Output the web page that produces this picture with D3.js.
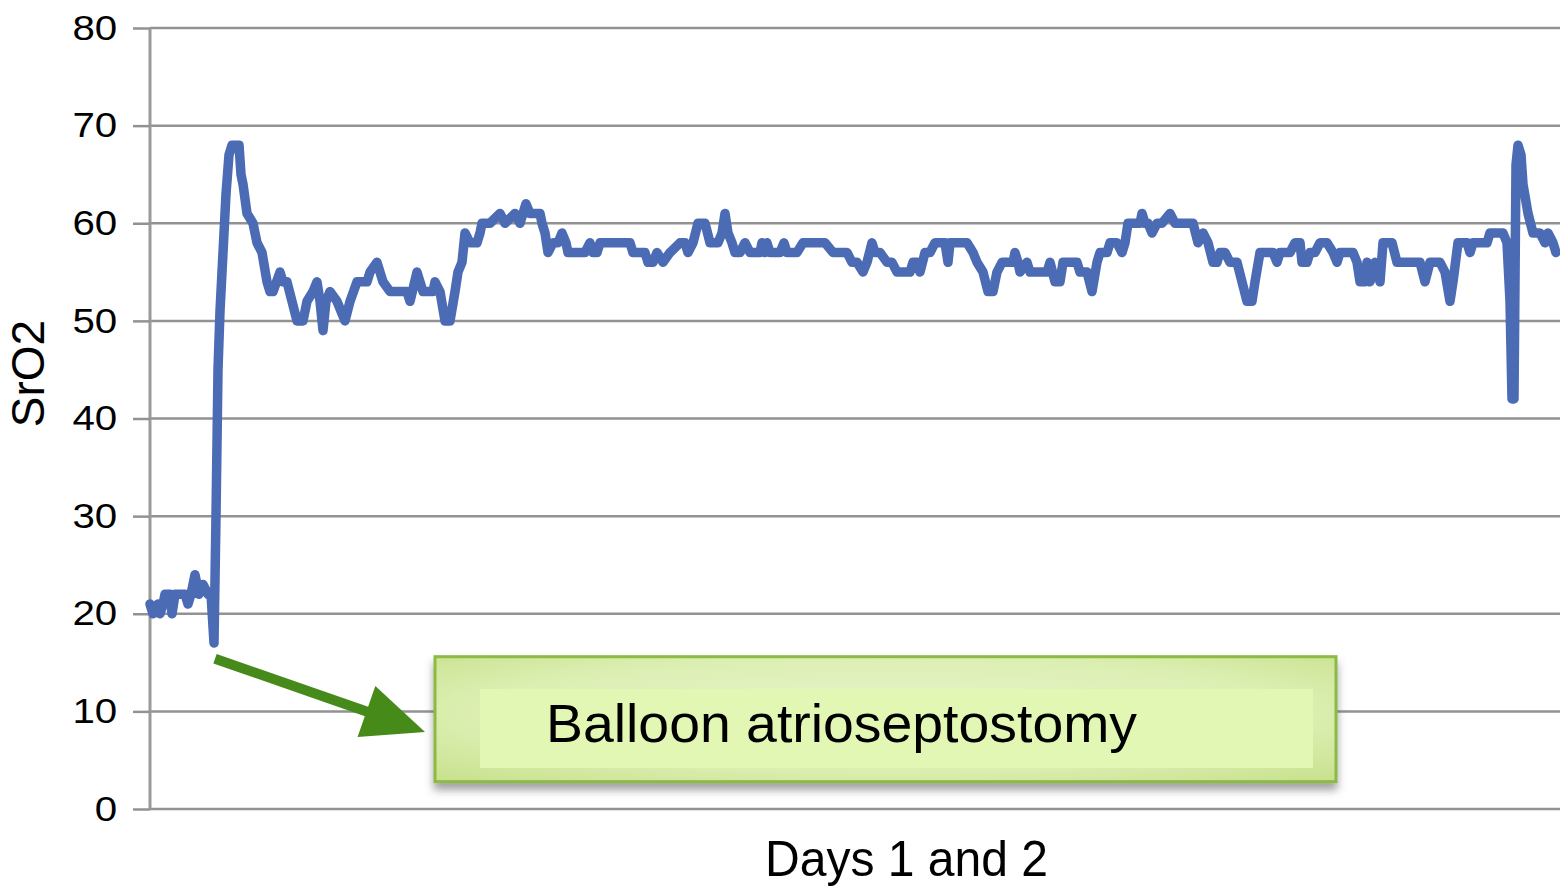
<!DOCTYPE html>
<html>
<head>
<meta charset="utf-8">
<script src="https://cdn.jsdelivr.net/npm/d3@7/dist/d3.min.js"></script>
<style>
  html, body { margin: 0; padding: 0; background: #ffffff; }
  svg { display: block; }
</style>
</head>
<body>
<svg id="chart" width="1560" height="887"></svg>
<script>
// ---- data (sample index over days 1 and 2, SrO2 value) ----
const sampleIdx = [0,3,8,10,13,15,20,22,25,35,38,41,45,49,53,58,61,64,66,68,70,72,74,76,79,82,86,89,91,93,97,103,107,112,117,120,123,130,133,137,142,147,153,157,163,167,170,173,176,180,187,195,200,207,217,220,227,233,240,257,260,267,273,283,285,290,295,300,305,308,312,315,320,327,330,332,340,350,355,365,370,376,380,390,392,395,398,403,408,412,416,418,435,440,443,447,450,480,483,495,498,503,507,513,520,530,535,538,543,548,555,560,568,572,575,578,582,585,590,595,600,610,612,615,617,620,630,634,637,647,653,675,683,697,702,707,713,717,722,725,730,737,742,747,760,763,767,770,775,780,785,795,798,800,817,823,827,833,838,843,847,852,863,865,868,870,877,880,897,900,905,910,913,927,930,937,942,947,950,957,960,967,972,975,978,990,992,995,998,1002,1007,1012,1020,1025,1043,1048,1053,1058,1063,1067,1070,1075,1080,1087,1092,1097,1102,1105,1110,1123,1127,1130,1140,1145,1150,1152,1157,1160,1165,1170,1177,1183,1187,1190,1203,1207,1210,1215,1217,1220,1225,1230,1233,1242,1247,1270,1275,1280,1290,1295,1300,1303,1308,1317,1320,1323,1337,1340,1353,1357,1360,1362,1364,1366,1368,1371,1373,1378,1383,1390,1395,1398,1403,1406];
const sro2Values = [21,20,21,20,21,22,22,20,22,22,21,22,24,22,23,22,22,17,30,45,51,55,59,63,67,68,68,68,65,64,61,60,58,57,54,53,53,55,54,54,52,50,50,52,53,54,52,49,52,53,52,50,52,54,54,55,56,54,53,53,52,55,53,53,54,53,50,50,53,55,56,59,58,58,59,60,60,61,60,61,60,62,61,61,60,59,57,58,58,59,58,57,57,58,57,57,58,58,57,57,56,56,57,56,57,58,58,57,58,60,60,58,58,59,61,59,58,57,57,58,57,57,58,57,58,57,57,58,57,57,58,58,57,57,56,56,55,56,58,57,57,56,56,55,55,56,56,55,57,57,58,58,56,58,58,57,56,55,53,53,55,56,56,57,56,55,56,55,55,56,54,54,56,56,55,55,53,56,57,57,58,58,57,58,60,60,61,60,60,59,60,60,61,60,60,58,59,58,56,56,57,57,56,56,54,52,52,54,57,57,56,57,57,58,58,56,56,57,57,58,58,57,56,57,57,56,54,54,56,54,56,54,58,58,56,56,54,56,56,55,52,54,58,58,57,58,58,59,59,58,52,42,42,66,68,67,64,61,59,59,58,59,58,57];
const yTicks = [0,10,20,30,40,50,60,70,80];
const yLabel = "SrO2";
const xLabel = "Days 1 and 2";
const noteText = "Balloon atrioseptostomy";
// annotation anchors in data units: [sample, value]
const arrowFrom = [65, 15.4];
const arrowTo = [275, 7.9];
const noteBox = [285, 15.6, 1186, 2.8];   // x0, yTop, x1, yBottom
const noteInner = [330, 12.3, 1163, 4.2];

const svg = d3.select("#chart");
const x = d3.scaleLinear().domain([0, 1410]).range([150, 1560]);
const y = d3.scaleLinear().domain([0, 80]).range([809, 28]);

const defs = svg.append("defs");
const rg = defs.append("radialGradient").attr("id", "boxFill")
  .attr("cx", "50%").attr("cy", "45%").attr("r", "75%");
rg.append("stop").attr("offset", "0%").attr("stop-color", "#e6f3cc");
rg.append("stop").attr("offset", "60%").attr("stop-color", "#dcefb2");
rg.append("stop").attr("offset", "100%").attr("stop-color", "#c6e08a");
const f = defs.append("filter").attr("id", "shadow")
  .attr("x", "-5%").attr("y", "-20%").attr("width", "110%").attr("height", "150%");
f.append("feDropShadow").attr("dx", 0).attr("dy", 7).attr("stdDeviation", 4)
  .attr("flood-color", "#555").attr("flood-opacity", 0.55);

// gridlines
svg.append("g").selectAll("line").data(yTicks).join("line")
  .attr("x1", 150).attr("x2", 1560)
  .attr("y1", d => y(d)).attr("y2", d => y(d))
  .attr("stroke", "#929292").attr("stroke-width", 2.5);

// y axis
const axis = svg.append("g").attr("transform", "translate(150,0)")
  .call(d3.axisLeft(y).tickValues(yTicks).tickSize(17).tickPadding(11.5));
axis.select(".domain").attr("stroke", "#9a9a9a").attr("stroke-width", 3)
  .attr("d", `M0,${y(80)}V${y(0)}`);
axis.selectAll(".tick line").attr("stroke", "#929292").attr("stroke-width", 2.5);
axis.selectAll(".tick text")
  .attr("font-family", "'Liberation Sans', Arial, Helvetica, sans-serif")
  .attr("font-size", 35).attr("fill", "#000")
  .attr("transform", "scale(1.15,1)");

// y label
svg.append("text")
  .attr("transform", `translate(44,${(y(0)+y(80))/2 - 45}) rotate(-90)`)
  .attr("text-anchor", "middle")
  .attr("font-family", "'Liberation Sans', Arial, sans-serif")
  .attr("font-size", 46).attr("fill", "#000")
  .text(yLabel);

// x label
svg.append("text")
  .attr("x", 765).attr("y", 876)
  .attr("font-family", "'Liberation Sans Narrow', 'Liberation Sans', Arial, sans-serif")
  .attr("font-size", 50).attr("fill", "#000")
  .attr("textLength", 283).attr("lengthAdjust", "spacingAndGlyphs")
  .text(xLabel);

// data line
const data = sampleIdx.map((s, i) => [s, sro2Values[i]]);
svg.append("path").datum(data)
  .attr("fill", "none").attr("stroke", "#4b6bb4").attr("stroke-width", 9.5)
  .attr("stroke-linejoin", "round").attr("stroke-linecap", "round")
  .attr("d", d3.line().x(d => x(d[0])).y(d => y(d[1])));

// arrow
const ax0 = x(arrowFrom[0]), ay0 = y(arrowFrom[1]);
const ax1 = x(arrowTo[0]), ay1 = y(arrowTo[1]);
const ang = Math.atan2(ay1 - ay0, ax1 - ax0);
const headLen = 62, headHalf = 27;
const bx = ax1 - headLen * Math.cos(ang), by = ay1 - headLen * Math.sin(ang);
svg.append("line")
  .attr("x1", ax0).attr("y1", ay0).attr("x2", bx + 10*Math.cos(ang)).attr("y2", by + 10*Math.sin(ang))
  .attr("stroke", "#478a1c").attr("stroke-width", 10);
svg.append("path")
  .attr("d", `M${ax1},${ay1}L${bx - headHalf*Math.sin(ang)},${by + headHalf*Math.cos(ang)}L${bx + headHalf*Math.sin(ang)},${by - headHalf*Math.cos(ang)}Z`)
  .attr("fill", "#468a1a");

// annotation box
const bx0 = x(noteBox[0]), by0 = y(noteBox[1]), bx1 = x(noteBox[2]), by1 = y(noteBox[3]);
svg.append("rect")
  .attr("x", bx0).attr("y", by0).attr("width", bx1 - bx0).attr("height", by1 - by0)
  .attr("fill", "url(#boxFill)").attr("stroke", "#8db944").attr("stroke-width", 3)
  .attr("filter", "url(#shadow)");
const ix0 = x(noteInner[0]), iy0 = y(noteInner[1]), ix1 = x(noteInner[2]), iy1 = y(noteInner[3]);
svg.append("rect")
  .attr("x", ix0).attr("y", iy0).attr("width", ix1 - ix0).attr("height", iy1 - iy0)
  .attr("fill", "#e2f7b4");
svg.append("text")
  .attr("x", 546).attr("y", 742)
  .attr("font-family", "'Liberation Sans Narrow', 'Liberation Sans', Arial, sans-serif")
  .attr("font-size", 54).attr("fill", "#000")
  .attr("textLength", 591).attr("lengthAdjust", "spacingAndGlyphs")
  .text(noteText);
</script>
</body>
</html>
